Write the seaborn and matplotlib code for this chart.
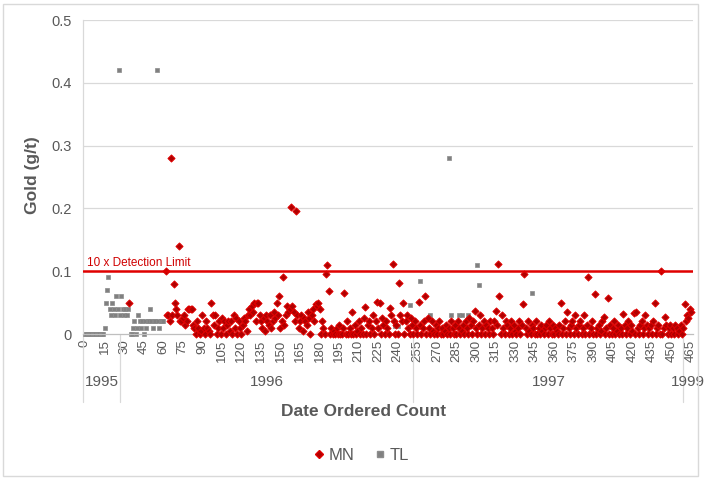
import numpy as np
import pandas as pd
import matplotlib
matplotlib.use("Agg")
import matplotlib.pyplot as plt
import matplotlib.transforms as mtransforms
from matplotlib.lines import Line2D
from matplotlib.patches import Rectangle
import seaborn as sns

# TL samples (count, gold g/t)
tl_count = [0, 1, 2, 3, 4, 5, 6, 7, 8, 9, 10, 11, 12, 13, 14, 15, 16, 17, 18, 19,
            20, 21, 22, 23, 24, 25, 26, 27, 28, 29, 30, 31, 32, 33, 35, 36, 37, 38, 39, 40,
            41, 42, 43, 44, 45, 46, 47, 48, 49, 50, 51, 52, 53, 54, 55, 56, 57, 58, 59, 60,
            238, 240, 249, 257, 265, 276, 279, 281, 287, 289, 294, 301, 302, 343, 353]
tl_gold = [0, 0, 0, 0, 0, 0, 0, 0, 0, 0, 0, 0, 0, 0, 0, 0.01, 0.05, 0.07, 0.09, 0.04,
           0.03, 0.05, 0.04, 0.03, 0.06, 0.04, 0.42, 0.03, 0.06, 0.04, 0.03, 0.04, 0.03, 0.04, 0, 0, 0.01, 0.02, 0, 0.01,
           0.03, 0.02, 0.01, 0.02, 0, 0.02, 0.01, 0.02, 0.02, 0.04, 0.02, 0.01, 0.02, 0.02, 0.42, 0.02, 0.01, 0.02, 0.02, 0.02,
           0.012, 0.013, 0.046, 0.085, 0.031, 0, 0.28, 0.031, 0.031, 0.031, 0.031, 0.11, 0.078, 0.066, 0]

# MN samples: one early sample, then a continuous run from count 62 to 465
mn_early_count = [34]
mn_early_gold = [0.05]
mn_run_start = 62
mn_run_gold = [
    0.10, 0.03, 0.03, 0.02, 0.28, 0.03, 0.08, 0.05, 0.04, 0.03,
    0.14, 0.02, 0.02, 0.025, 0.03, 0.015, 0.02, 0.04, 0.04, 0.04,
    0.04, 0.015, 0.01, 0.0, 0.02, 0.01, 0.0, 0.005, 0.03, 0.01,
    0.0, 0.02, 0.01, 0.005, 0.0, 0.05, 0.03, 0.015, 0.03, 0.0,
    0.01, 0.02, 0.0, 0.025, 0.01, 0.02, 0.0, 0.015, 0.02, 0.005,
    0.02, 0.0, 0.03, 0.01, 0.025, 0.0, 0.02, 0.01, 0.0, 0.015,
    0.025, 0.02, 0.005, 0.03, 0.04, 0.03, 0.045, 0.035, 0.05, 0.02,
    0.05, 0.05, 0.03, 0.02, 0.01, 0.025, 0.005, 0.03, 0.02, 0.015,
    0.03, 0.01, 0.02, 0.035, 0.025, 0.05, 0.03, 0.06, 0.01, 0.02,
    0.09, 0.015, 0.03, 0.045, 0.035, 0.04, 0.203, 0.045, 0.035, 0.02,
    0.196, 0.03, 0.01, 0.02, 0.03, 0.005, 0.025, 0.02, 0.015, 0.035,
    0.025, 0.0, 0.03, 0.04, 0.02, 0.048, 0.045, 0.05, 0.04, 0.0,
    0.02, 0.01, 0.0, 0.095, 0.11, 0.068, 0.0, 0.01, 0.0, 0.005,
    0.0, 0.01, 0.0, 0.015, 0.0, 0.0, 0.01, 0.066, 0.0, 0.02,
    0.0, 0.01, 0.0, 0.035, 0.0, 0.015, 0.0, 0.005, 0.02, 0.0,
    0.01, 0.0, 0.025, 0.043, 0.0, 0.015, 0.02, 0.0, 0.01, 0.03,
    0.0, 0.02, 0.051, 0.01, 0.05, 0.0, 0.025, 0.015, 0.0, 0.02,
    0.01, 0.0, 0.042, 0.03, 0.111, 0.02, 0.0, 0.015, 0.0, 0.081,
    0.03, 0.02, 0.05, 0.0, 0.02, 0.03, 0.01, 0.0, 0.025, 0.015,
    0.0, 0.02, 0.01, 0.0, 0.051, 0.015, 0.0, 0.01, 0.02, 0.06,
    0.0, 0.025, 0.01, 0.0, 0.02, 0.005, 0.0, 0.015, 0.0, 0.01,
    0.02, 0.0, 0.01, 0.0, 0.005, 0.015, 0.0, 0.01, 0.0, 0.02,
    0.01, 0.0, 0.015, 0.0, 0.02, 0.01, 0.0, 0.005, 0.015, 0.0,
    0.02, 0.01, 0.0, 0.025, 0.015, 0.0, 0.02, 0.037, 0.01, 0.0,
    0.015, 0.03, 0.0, 0.01, 0.02, 0.0, 0.015, 0.01, 0.0, 0.02,
    0.01, 0.0, 0.02, 0.037, 0.015, 0.111, 0.06, 0.0, 0.03, 0.01,
    0.0, 0.02, 0.015, 0.0, 0.01, 0.02, 0.0, 0.015, 0.005, 0.0,
    0.01, 0.02, 0.0, 0.015, 0.048, 0.095, 0.01, 0.0, 0.02, 0.005,
    0.0, 0.015, 0.01, 0.0, 0.02, 0.0, 0.01, 0.0, 0.015, 0.005,
    0.0, 0.01, 0.015, 0.0, 0.02, 0.01, 0.0, 0.015, 0.0, 0.01,
    0.005, 0.0, 0.015, 0.049, 0.0, 0.01, 0.02, 0.0, 0.035, 0.01,
    0.0, 0.015, 0.02, 0.0, 0.03, 0.01, 0.0, 0.015, 0.02, 0.0,
    0.01, 0.03, 0.0, 0.015, 0.09, 0.0, 0.01, 0.02, 0.0, 0.064,
    0.0, 0.01, 0.015, 0.0, 0.005, 0.02, 0.027, 0.0, 0.01, 0.057,
    0.0, 0.015, 0.0, 0.01, 0.02, 0.0, 0.005, 0.015, 0.0, 0.01,
    0.0, 0.032, 0.015, 0.0, 0.01, 0.02, 0.0, 0.015, 0.005, 0.034,
    0.0, 0.035, 0.01, 0.0, 0.015, 0.02, 0.0, 0.01, 0.03, 0.015,
    0.0, 0.01, 0.015, 0.0, 0.02, 0.05, 0.0, 0.01, 0.015, 0.0,
    0.10, 0.0, 0.01, 0.027, 0.015, 0.0, 0.01, 0.015, 0.0, 0.01,
    0.0, 0.015, 0.01, 0.0, 0.005, 0.015, 0.0, 0.01, 0.048, 0.02,
    0.03, 0.025, 0.04, 0.035,
]

# Year groups along the count axis
year_labels = ["1995", "1996", "1997", "1999"]
year_bounds = [-1.5, 27, 252, 459, 466.5]

detection_limit = 0.1
x_ticks = list(range(0, 466, 15))
y_ticks = [0, 0.1, 0.2, 0.3, 0.4, 0.5]

sns.set_theme(style="white")
plt.rcParams["font.family"] = ["Liberation Sans", "DejaVu Sans"]

GREY = "#595959"

mn = pd.DataFrame({
    "count": mn_early_count + list(range(mn_run_start, mn_run_start + len(mn_run_gold))),
    "gold": mn_early_gold + mn_run_gold,
})
tl = pd.DataFrame({"count": tl_count, "gold": tl_gold})

fig = plt.figure(figsize=(7.04, 4.79), dpi=100)
ax = fig.add_axes([83 / 704, 1 - 334 / 479, 610 / 704, 314 / 479])

# horizontal gridlines
for yv in y_ticks[1:]:
    ax.axhline(yv, color="#d9d9d9", lw=0.9, zorder=0)

sns.scatterplot(data=mn, x="count", y="gold", ax=ax, marker="D", s=13,
                color="#b00000", edgecolor="#e00000", linewidth=0.7, zorder=3,
                clip_on=False, legend=False)
sns.scatterplot(data=tl, x="count", y="gold", ax=ax, marker="s", s=11,
                color="#808080", edgecolor="#8c8c8c", linewidth=0.5, zorder=2,
                clip_on=False, legend=False)

# 10x detection limit
ax.axhline(detection_limit, color="#e00000", lw=1.8, zorder=4)
ax.text(1.5, detection_limit + 0.004, "10 x Detection Limit", color="#d00000",
        fontsize=8.5, ha="left", va="bottom", zorder=5)

ax.set_xlim(-1.5, 466.5)
ax.set_ylim(0, 0.5)
ax.set_xticks(x_ticks)
ax.set_xticklabels([str(t) for t in x_ticks], rotation=90, fontsize=9.5, color=GREY)
ax.set_yticks(y_ticks)
ax.set_yticklabels(["0", "0.1", "0.2", "0.3", "0.4", "0.5"], fontsize=10.5, color=GREY)
ax.tick_params(axis="both", length=0, pad=4)
ax.tick_params(axis="y", pad=8)

for side in ["top", "right"]:
    ax.spines[side].set_visible(False)
ax.spines["left"].set_color("#d9d9d9")
ax.spines["bottom"].set_color("#bfbfbf")
ax.spines["left"].set_linewidth(0.9)
ax.spines["bottom"].set_linewidth(0.9)

ax.set_xlabel("")
ax.set_ylabel("")
fig.text(33 / 704, 1 - 175 / 479, "Gold (g/t)", rotation=90, ha="center", va="center",
         fontsize=12.5, fontweight="bold", color=GREY)

# year group separators and labels under the tick labels
trans = mtransforms.blended_transform_factory(ax.transData, ax.transAxes)
for b in year_bounds[:-1]:
    ax.plot([b, b], [0, -0.215], transform=trans, color="#d9d9d9", lw=0.9,
            clip_on=False, zorder=1)
for i, lab in enumerate(year_labels):
    mid = (year_bounds[i] + year_bounds[i + 1]) / 2
    ax.text(mid, -0.153, lab, transform=trans, ha="center", va="center",
            fontsize=11, color=GREY)

fig.text(364 / 704, 1 - 411 / 479, "Date Ordered Count", ha="center", va="center",
         fontsize=12.5, fontweight="bold", color=GREY)

handles = [
    Line2D([], [], marker="D", linestyle="none", markersize=4.5,
           markerfacecolor="#b00000", markeredgecolor="#e00000", label="MN"),
    Line2D([], [], marker="s", linestyle="none", markersize=4,
           markerfacecolor="#808080", markeredgecolor="#8c8c8c", label="TL"),
]
fig.legend(handles=handles, loc="center", bbox_to_anchor=(360 / 704, 1 - 455 / 479),
           ncol=2, frameon=False, fontsize=12, handletextpad=0.1,
           columnspacing=1.0, labelcolor=GREY, handlelength=1.0)

# chart frame
fig.patches.append(Rectangle((3 / 704, 3 / 479), 695 / 704, 472 / 479,
                             transform=fig.transFigure, fill=False,
                             edgecolor="#d9d9d9", lw=1.0))

fig.savefig("out.png", dpi=100)
